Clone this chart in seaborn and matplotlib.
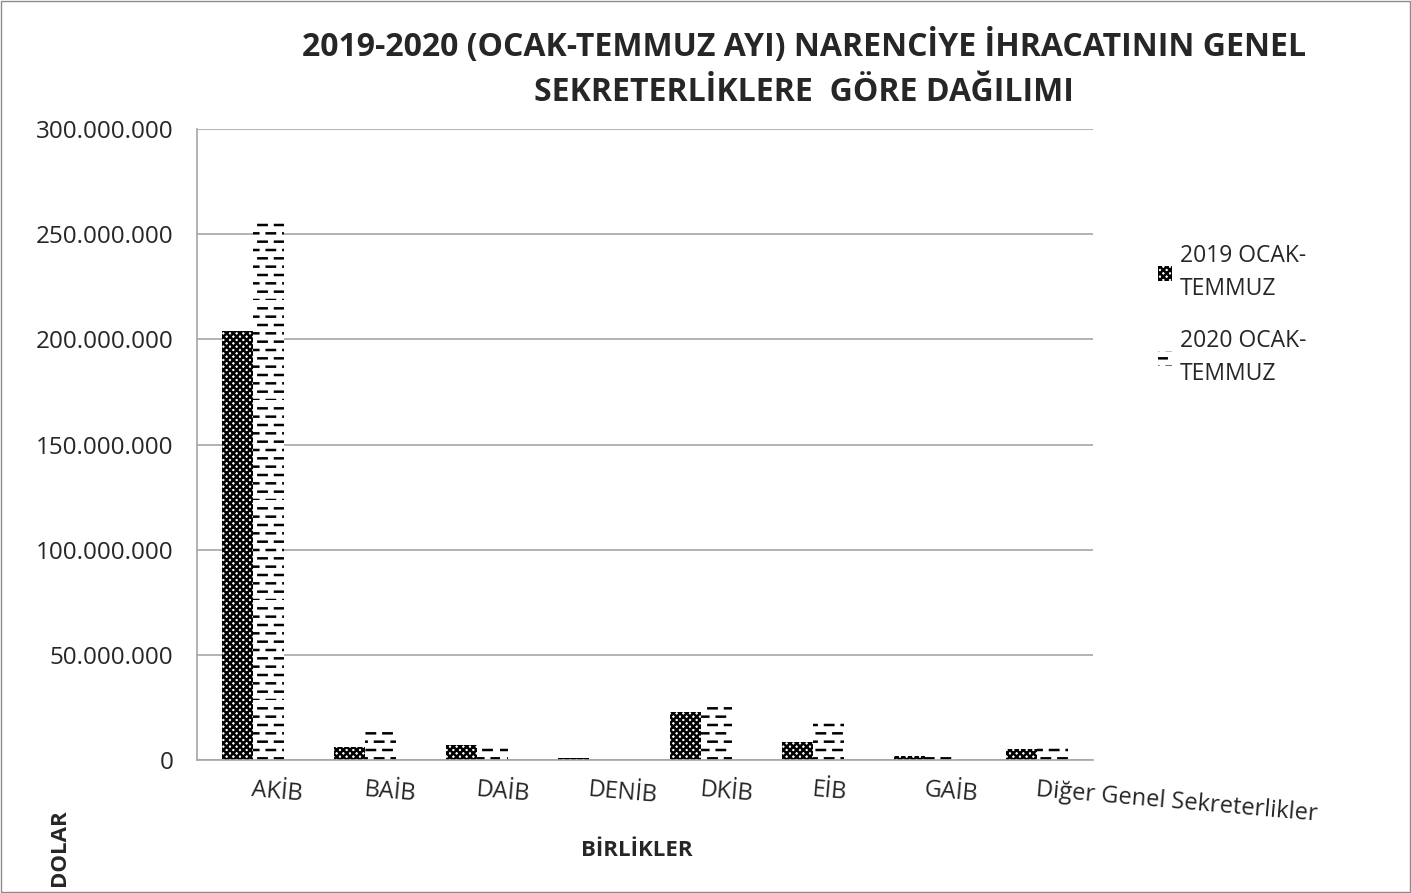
import pandas as pd
import seaborn as sns
import matplotlib.pyplot as plt
import matplotlib.hatch as mhatch
from matplotlib.path import Path
from matplotlib.patches import Rectangle
from matplotlib.ticker import FuncFormatter

# values (USD)
birlikler = ['AKİB', 'BAİB', 'DAİB', 'DENİB', 'DKİB', 'EİB', 'GAİB', 'Diğer Genel Sekreterlikler']
ocak_temmuz_2019 = [204000000, 6200000, 7000000, 1000000, 22800000, 8600000, 2000000, 5200000]
ocak_temmuz_2020 = [257000000, 13300000, 6000000, 0, 28000000, 17600000, 2000000, 6000000]
seriler = ['2019 OCAK-\nTEMMUZ', '2020 OCAK-\nTEMMUZ']


# '-' hatch drawn as staggered short dashes (like the Excel pattern)
class DashedHorizontalHatch(mhatch.HatchPatternBase):
    def __init__(self, hatch, density):
        self.rows = int((hatch.count('-') + hatch.count('+')) * density)
        self.cols = max(self.rows // 2, 1)
        self.num_vertices = self.rows * self.cols * 2

    def set_vertices_and_codes(self, vertices, codes):
        step = 1.0 / self.cols
        i = 0
        for r in range(self.rows):
            y = r / self.rows
            off = step / 2 if r % 2 else 0
            for c in range(self.cols):
                x0 = c * step + off
                vertices[i] = (x0, y)
                vertices[i + 1] = (x0 + step / 2, y)
                codes[i] = Path.MOVETO
                codes[i + 1] = Path.LINETO
                i += 2


mhatch._hatch_types[mhatch._hatch_types.index(mhatch.HorizontalHatch)] = DashedHorizontalHatch

df = pd.DataFrame({
    'Birlik': birlikler * 2,
    'Dolar': ocak_temmuz_2019 + ocak_temmuz_2020,
    'Donem': [seriler[0]] * len(birlikler) + [seriler[1]] * len(birlikler),
})

sns.set_style('white')
plt.rcParams['font.family'] = ['Open Sans', 'DejaVu Sans']
plt.rcParams['hatch.linewidth'] = 1.8

fig = plt.figure(figsize=(14.11, 8.93), dpi=100)
ax = fig.add_axes([0.1396, 0.1489, 0.635, 0.7066])

sns.barplot(data=df, x='Birlik', y='Dolar', hue='Donem', order=birlikler,
            hue_order=seriler, width=0.56, gap=0, ax=ax, legend=False)

hatches = ['xxxxx', '--']
for cont, h in zip(ax.containers, hatches):
    for bar in cont:
        bar.set_facecolor('white')
        bar.set_edgecolor('black')
        bar.set_linewidth(0)
        bar.set_hatch(h)

ax.set_ylim(0, 300000000)
ax.set_yticks(range(0, 300000001, 50000000))
ax.yaxis.set_major_formatter(FuncFormatter(lambda v, p: f'{int(v):,}'.replace(',', '.')))
ax.grid(axis='y', color='#a6a6a6', linewidth=1.2)
ax.set_axisbelow(True)
for s in ['top', 'right']:
    ax.spines[s].set_visible(False)
for s in ['left', 'bottom']:
    ax.spines[s].set_color('#a6a6a6')
    ax.spines[s].set_linewidth(1.2)
ax.tick_params(axis='y', length=0, labelsize=17.5, colors='#262626', pad=17)
ax.tick_params(axis='x', length=0, labelsize=17, colors='#262626', pad=13)
for lbl in ax.get_xticklabels():
    lbl.set_rotation(-5)
    lbl.set_ha('left')
    lbl.set_rotation_mode('anchor')
ax.set_xlabel('')
ax.set_ylabel('')

leg = ax.legend([c.patches[0] for c in ax.containers], seriler,
                loc='upper left', bbox_to_anchor=(1.05, 0.85), frameon=False,
                fontsize=16.5, handlelength=0.6, handleheight=0.6, labelspacing=1.2,
                handletextpad=0.35)
for t in leg.get_texts():
    t.set_color('#262626')
    t.set_linespacing(1.5)

fig.text(0.57, 0.968, '2019-2020 (OCAK-TEMMUZ AYI) NARENCİYE İHRACATININ GENEL\nSEKRETERLİKLERE  GÖRE DAĞILIMI',
         ha='center', va='top', fontsize=23, fontweight='bold', color='#262626', linespacing=1.5)
fig.text(0.451, 0.048, 'BİRLİKLER', ha='center', va='center', fontsize=16, fontweight='bold')
fig.text(0.042, 0.008, 'DOLAR', rotation=90, ha='center', va='bottom', fontsize=16, fontweight='bold')

fig.add_artist(Rectangle((0.001, 0.001), 0.998, 0.998, transform=fig.transFigure,
                         fill=False, edgecolor='#8c8c8c', linewidth=1))

fig.savefig('out.png', dpi=100)
